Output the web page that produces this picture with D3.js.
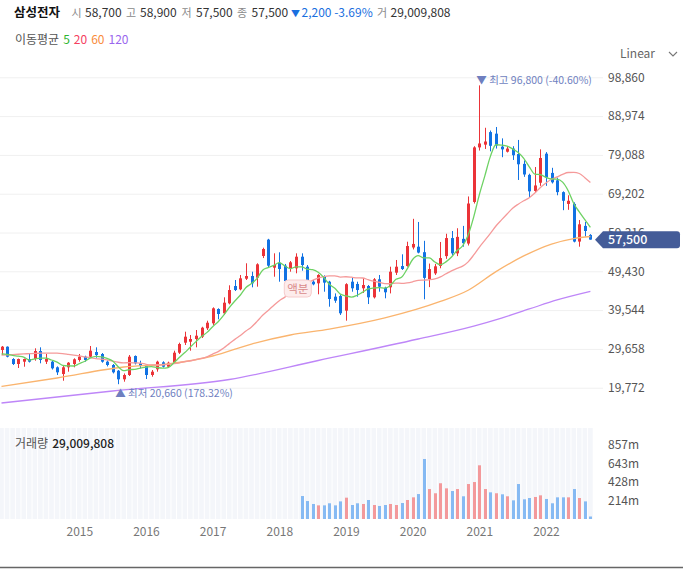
<!DOCTYPE html>
<html>
<head>
<meta charset="utf-8">
<script src="https://cdn.jsdelivr.net/npm/d3@7"></script>
<style>
  body { margin: 0; background: #fff; }
  svg text { font-family: "Noto Sans CJK KR", "Noto Sans", sans-serif; }
</style>
</head>
<body>
<svg id="chart" width="683" height="569"></svg>
<script>
// 월봉 (2013-11 ~ 2022-09), 수정주가
const startMonth = new Date(2013, 10, 1);

const openP = [29380, 30220, 27080, 25810, 26400, 27080, 27080, 29120, 26400, 26400,
  24970, 23260, 24970, 25810, 26830, 27670, 27670, 28870, 28360, 26400,
  25560, 24100, 21910, 23010, 27850, 25990, 25300, 23010, 24460, 26240,
  25120, 26140, 28690, 31240, 31490, 32180, 32770, 34910, 36180, 39820,
  38730, 41270, 45680, 44840, 47540, 48230, 47800, 53330, 57500, 50350,
  51620, 50860, 50010, 50190, 53150, 50600, 46780, 46370, 48230, 46780,
  42960, 43130, 39400, 46780, 46200, 45100, 45680, 42800, 47390, 45250,
  45350, 49080, 50770, 50770, 55500, 55700, 54300, 47450, 48900, 50800,
  53300, 57900, 54000, 57700, 56500, 67100, 81000, 81700, 84900, 84500,
  81200, 79900, 80700, 79300, 76800, 74000, 69900, 72000, 79400, 74500,
  72600, 69600, 66600, 66600, 57000, 61000, 58700];
const highP = [30400, 30300, 27300, 27200, 27200, 28610, 29810, 30060, 28360, 26600,
  25200, 25300, 26300, 27260, 28360, 27920, 30400, 30060, 28610, 26700,
  25800, 24280, 23400, 28100, 28000, 26650, 25500, 24280, 26650, 26500,
  26400, 29200, 31240, 34040, 33200, 34470, 35300, 36840, 40250, 40000,
  42800, 45860, 47210, 48490, 51470, 49330, 51470, 55440, 57700, 54010,
  54270, 51300, 52050, 54010, 54010, 51030, 47210, 48700, 48400, 47000,
  43800, 43500, 46400, 47900, 46780, 47720, 45940, 47700, 48490, 45500,
  50600, 52310, 53760, 56970, 62800, 62000, 57200, 51400, 51300, 56900,
  59000, 59700, 60400, 61000, 68500, 81300, 96800, 86000, 85300, 86200,
  83300, 81300, 81300, 82900, 77700, 74300, 76000, 80500, 79800, 75800,
  73300, 69800, 68800, 67000, 62500, 62000, 58900];
const lowP = [28100, 27500, 25550, 24790, 25120, 26200, 26650, 25990, 25810, 24400,
  23010, 21550, 23850, 24970, 26400, 26400, 27410, 27410, 26140, 25200,
  23400, 20660, 21300, 22750, 25700, 24710, 21990, 22570, 23850, 24900,
  24900, 26000, 28360, 30650, 29200, 30060, 32430, 34470, 35750, 37200,
  38300, 41000, 44400, 44600, 47210, 45350, 45510, 52800, 50400, 48050,
  46780, 45800, 49330, 48920, 49580, 46780, 45860, 43570, 44230, 40410,
  41400, 38300, 36850, 44230, 42960, 43900, 41090, 42500, 44230, 42550,
  43800, 48490, 49760, 50600, 55000, 54000, 42300, 45400, 48500, 50200,
  52600, 53500, 53300, 55700, 56000, 66700, 80200, 80600, 80000, 80700,
  78500, 79700, 77800, 72700, 73500, 68300, 69600, 71200, 71200, 71800,
  68800, 65000, 65100, 56800, 55700, 58300, 57500];
const closeP = [30220, 27670, 25810, 27080, 27080, 26400, 29120, 26830, 27080, 24710,
  23690, 24970, 26140, 27010, 27670, 26830, 29200, 28100, 26400, 25560,
  23690, 21910, 23010, 27670, 25990, 25300, 23010, 23850, 26400, 25120,
  26140, 28690, 30900, 32770, 32180, 33020, 35060, 36330, 40000, 38550,
  41430, 44660, 44660, 47640, 48230, 46370, 51210, 55110, 50860, 51030,
  50010, 46950, 51720, 53150, 51030, 47210, 46120, 48490, 46540, 42370,
  41940, 38730, 46150, 45100, 44660, 45940, 42800, 47390, 45510, 44080,
  49330, 50600, 50010, 55870, 56400, 54200, 47750, 50000, 50700, 52800,
  57900, 54000, 58200, 56600, 66700, 81000, 82000, 82500, 81400, 81500,
  80500, 80700, 79000, 76700, 74100, 69800, 71300, 78300, 73300, 72100,
  69600, 67400, 67400, 57000, 61400, 59700, 57500];

// 이동평균
const ma5 = [28400, 28250, 28000, 27800, 27570, 26810, 27100, 27300, 27300, 26830,
  26290, 25460, 25320, 25300, 25900, 26520, 27370, 27760, 27640, 27220,
  26590, 25130, 24110, 24370, 24450, 24780, 25000, 25160, 24910, 24740,
  24900, 26040, 27450, 28720, 30140, 31510, 32790, 33870, 35320, 36590,
  38270, 40190, 41860, 43390, 45320, 46310, 47620, 49710, 50360, 50920,
  51640, 50790, 50110, 50570, 50570, 50010, 49850, 49200, 47880, 46150,
  45090, 43610, 43150, 42860, 43320, 44120, 44930, 45180, 45260, 45140,
  45820, 47380, 47910, 49980, 52440, 53420, 52850, 52840, 51810, 51090,
  51830, 53080, 54720, 55900, 58680, 63300, 68900, 73760, 78720, 81680,
  81580, 81320, 80620, 79680, 78200, 76060, 74180, 74040, 73360, 72960,
  72920, 72140, 69960, 66700, 64560, 62580, 60600];
const ma20 = [28060, 28120, 28200, 28300, 28380, 28450, 28520, 28560, 28590, 28600,
  28570, 28450, 28260, 28060, 27860, 27620, 27380, 27200, 27050, 26880,
  26550, 26260, 26120, 26150, 26100, 26040, 25740, 25590, 25560, 25580,
  25700, 25890, 26120, 26410, 26640, 26950, 27240, 27650, 28330, 28980,
  29870, 31000, 32090, 33090, 34200, 35250, 36660, 38220, 39450, 40740,
  41940, 42850, 43890, 44910, 45850, 46560, 47110, 47720, 48050, 48240,
  48270, 47970, 48040, 47920, 47740, 47720, 47300, 46910, 46640, 46300,
  46260, 46440, 46360, 46490, 46760, 47110, 47190, 47270, 47480, 48000,
  48800, 49560, 50160, 50740, 51840, 53590, 55550, 57310, 59100, 60970,
  62530, 64040, 65490, 66530, 67410, 68190, 69370, 70790, 71920, 72880,
  73470, 74140, 74600, 74620, 74350, 73290, 72060];
const ma60 = [["2013-11", 20080], ["2014-09", 22240], ["2015-09", 25050], ["2016-05", 25810],
  ["2017-01", 27850], ["2017-08", 30900], ["2018-03", 33200], ["2018-10", 34700],
  ["2019-08", 37540], ["2020-06", 41740], ["2020-11", 44590], ["2021-04", 49340],
  ["2021-09", 53340], ["2022-02", 56370], ["2022-06", 57760], ["2022-09", 58300]];
const ma120 = [["2013-11", 15870], ["2015-07", 18930], ["2017-04", 21860], ["2018-08", 26700],
  ["2020-02", 32180], ["2020-12", 35490], ["2021-05", 37530], ["2021-10", 39830],
  ["2022-03", 42120], ["2022-09", 44300]];

// 거래량 (백만 주), 2018-05 부터
const volStart = "2018-05";
const volume = [266, 208, 174, 158, 158, 182, 158, 204, 247, 162,
  182, 174, 220, 162, 151, 162, 174, 162, 185, 220,
  251, 289, 695, 347, 298, 414, 355, 324, 347, 263,
  405, 428, 622, 347, 309, 298, 286, 263, 216, 405,
  228, 243, 255, 274, 232, 182, 251, 251, 251, 347,
  243, 204, 29];

const priceTicks = [98860, 88974, 79088, 69202, 59316, 49430, 39544, 29658, 19772];
const volTicks = [857, 643, 428, 214];
const yearTicks = ["2015", "2016", "2017", "2018", "2019", "2020", "2021", "2022"];

const stockName = "삼성전자";
const quoteLabels = ["시", "고", "저", "종"];
const quoteValues = [58700, 58900, 57500, 57500];
const dayChange = -2200, dayChangePct = -3.69, dayVolume = 29009808;
const maLabels = ["5", "20", "60", "120"];

const upColor = "#eb3338", downColor = "#1172e3";
const volUp = "#f3999b", volDown = "#86baf3";
const maColors = ["#6ed264", "#f59a9a", "#fab46e", "#be86f8"];
const maTextColors = ["#2fb52f", "#f5405f", "#f98c3c", "#9a66ee"];
const fmt = d3.format(",");

const svg = d3.select("#chart");

const months = d3.timeMonth.range(startMonth, d3.timeMonth.offset(startMonth, closeP.length));
const keys = months.map(d3.timeFormat("%Y-%m"));
const bars = keys.map((k, i) => ({
  k, o: openP[i], h: highP[i], l: lowP[i], c: closeP[i],
  prev: i ? closeP[i - 1] : openP[i]
}));

// Scale
const x = d3.scalePoint().domain(keys).range([1.5, 590.4]);
const y = d3.scaleLinear().domain([19772, 98860]).range([387.7, 77.3]);
const yv = d3.scaleLinear().domain([0, 857]).range([519, 445]);

svg.append("defs").append("clipPath").attr("id", "plot")
  .append("rect").attr("x", 0).attr("y", 60).attr("width", 600).attr("height", 360);

// Header
svg.append("text").attr("x", 14).attr("y", 17).text(stockName)
  .style("font-size", "12.5px").style("font-weight", "bold").attr("fill", "#111");
const labX = [71.5, 126, 181.5, 237], valX = [85, 140, 196, 251.5];
quoteLabels.forEach((lab, i) => {
  svg.append("text").attr("x", labX[i]).attr("y", 17).text(lab)
    .style("font-size", "11px").attr("fill", "#8a8a8a");
  svg.append("text").attr("x", valX[i]).attr("y", 17).text(fmt(quoteValues[i]))
    .style("font-size", "12px").attr("fill", "#333");
});
svg.append("text").attr("x", 291).attr("y", 17).text("▼")
  .style("font-size", "9px").attr("fill", "#1a6fe0");
svg.append("text").attr("x", 301.5).attr("y", 17)
  .text(`${fmt(Math.abs(dayChange))} ${dayChangePct.toFixed(2)}%`)
  .style("font-size", "12px").attr("fill", "#1a6fe0");
svg.append("text").attr("x", 377).attr("y", 17).text("거")
  .style("font-size", "11px").attr("fill", "#8a8a8a");
svg.append("text").attr("x", 390.5).attr("y", 17).text(fmt(dayVolume))
  .style("font-size", "12px").attr("fill", "#333");

// 이동평균 범례
const leg = svg.append("text").attr("x", 15).attr("y", 44).style("font-size", "12px");
leg.append("tspan").text("이동평균").attr("fill", "#555");
maLabels.forEach((m, i) => leg.append("tspan").attr("dx", 4).text(m).attr("fill", maTextColors[i]));

// Linear 선택
svg.append("text").attr("x", 620).attr("y", 58).text("Linear")
  .style("font-size", "12px").attr("fill", "#666");
svg.append("path").attr("d", "M669,52 L673,56 L677,52")
  .attr("fill", "none").attr("stroke", "#777").attr("stroke-width", 1.1);

// Grid + 가격 축
svg.append("g")
  .call(d3.axisLeft(y).tickValues(priceTicks).tickSize(-603).tickFormat(""))
  .call(g => g.select(".domain").remove())
  .call(g => g.selectAll("line").attr("stroke", "#f0f0f0"));
svg.append("g").attr("transform", "translate(603,0)")
  .call(d3.axisRight(y).tickValues(priceTicks).tickFormat(fmt).tickSize(0).tickPadding(5))
  .call(g => g.select(".domain").remove())
  .call(g => g.selectAll("text").attr("fill", "#555").style("font-size", "12px"));

const plot = svg.append("g").attr("clip-path", "url(#plot)");

// Candles
const cx = d => Math.round(x(d.k));
plot.selectAll(".wick").data(bars).enter().append("line")
  .attr("x1", d => cx(d) + 0.5).attr("x2", d => cx(d) + 0.5)
  .attr("y1", d => y(d.h)).attr("y2", d => y(d.l))
  .attr("stroke", d => d.c >= d.o ? upColor : downColor).attr("stroke-width", 1);
plot.selectAll(".body").data(bars).enter().append("rect")
  .attr("x", d => cx(d) - 1).attr("width", 3)
  .attr("y", d => y(Math.max(d.o, d.c)))
  .attr("height", d => Math.max(1, Math.abs(y(d.o) - y(d.c))))
  .attr("fill", d => d.c >= d.o ? upColor : downColor);

// 이동평균선
const lineFull = d3.line().x((d, i) => x(keys[i])).y(d => y(d)).curve(d3.curveMonotoneX);
const lineSparse = d3.line().x(d => x(d[0])).y(d => y(d[1])).curve(d3.curveMonotoneX);
[[ma120, 3], [ma60, 2]].forEach(([data, ci]) => {
  plot.append("path").attr("d", lineSparse(data)).attr("fill", "none")
    .attr("stroke", maColors[ci]).attr("stroke-width", 1.3);
});
[[ma20, 1], [ma5, 0]].forEach(([data, ci]) => {
  plot.append("path").attr("d", lineFull(data)).attr("fill", "none")
    .attr("stroke", maColors[ci]).attr("stroke-width", 1.3);
});

// 최고 / 최저 표시
const last = closeP[closeP.length - 1];
const hiI = d3.maxIndex(highP), loI = d3.minIndex(lowP);
const noteColor = "#6f7fbf";
svg.append("text").attr("x", x(keys[hiI]) - 3).attr("y", y(highP[hiI]) - 5.5).attr("dy", "0.35em")
  .text(`▼ 최고 ${fmt(highP[hiI])} (${((last / highP[hiI] - 1) * 100).toFixed(2)}%)`)
  .style("font-size", "10.5px").attr("fill", noteColor);
svg.append("text").attr("x", x(keys[loI]) - 3).attr("y", y(lowP[loI]) + 9.5).attr("dy", "0.35em")
  .text(`▲ 최저 ${fmt(lowP[loI])} (${((last / lowP[loI] - 1) * 100).toFixed(2)}%)`)
  .style("font-size", "10.5px").attr("fill", noteColor);

// 액면분할 표시
const splitI = keys.indexOf(volStart);
const sx = x(volStart) - 3.7, sy = y(lowP[splitI]) + 9.3;
svg.append("rect").attr("x", sx - 13.5).attr("y", sy).attr("width", 27).attr("height", 17)
  .attr("rx", 4).attr("fill", "#fdecec").attr("stroke", "#f6cccc");
svg.append("text").attr("x", sx).attr("y", sy + 8.5).attr("dy", "0.35em")
  .attr("text-anchor", "middle").text("액분")
  .style("font-size", "11.5px").attr("fill", "#d98a8a");

// 현재가 라벨
const py = y(last);
svg.append("path")
  .attr("d", `M595,${py} L603,${py - 8.5} H677 Q680,${py - 8.5} 680,${py - 5.5} V${py + 5.5} Q680,${py + 8.5} 677,${py + 8.5} H603 Z`)
  .attr("fill", "#445c98");
svg.append("text").attr("x", 608).attr("y", py).attr("dy", "0.35em").text(fmt(last))
  .style("font-size", "12.5px").style("font-weight", "500").attr("fill", "#fff");

// 거래량 패널
svg.append("g").selectAll("rect").data(keys).enter().append("rect")
  .attr("x", k => x(k) - 2.3).attr("width", 4.6)
  .attr("y", 428).attr("height", 91).attr("fill", "#f4f6fa");
const vStart = keys.indexOf(volStart);
const vols = volume.map((v, i) => ({ b: bars[vStart + i], v }));
svg.append("g").selectAll("rect").data(vols).enter().append("rect")
  .attr("x", d => cx(d.b) - 1).attr("width", 3)
  .attr("y", d => yv(d.v)).attr("height", d => 519 - yv(d.v))
  .attr("fill", d => d.b.c >= d.b.prev ? volUp : volDown);

const vt = svg.append("text").attr("x", 15).attr("y", 448).style("font-size", "12px");
vt.append("tspan").text("거래량").attr("fill", "#555");
vt.append("tspan").attr("dx", 4).text(fmt(dayVolume)).attr("fill", "#222").style("font-weight", "500");

svg.append("g").attr("transform", "translate(603,0)")
  .call(d3.axisRight(yv).tickValues(volTicks).tickFormat(d => d + "m").tickSize(0).tickPadding(5))
  .call(g => g.select(".domain").remove())
  .call(g => g.selectAll("text").attr("fill", "#555").style("font-size", "12px"));

// X 축 (연도)
svg.append("g").attr("transform", "translate(0,524)")
  .call(d3.axisBottom(x).tickValues(yearTicks.map(t => t + "-01")).tickFormat(k => k.slice(0, 4)).tickSize(0).tickPadding(3))
  .call(g => g.select(".domain").remove())
  .call(g => g.selectAll("text").attr("fill", "#777").style("font-size", "12px"));

// 하단 경계선
svg.append("line").attr("x1", 0).attr("x2", 683).attr("y1", 567.5).attr("y2", 567.5)
  .attr("stroke", "#666").attr("stroke-width", 1.5);
</script>
</body>
</html>
